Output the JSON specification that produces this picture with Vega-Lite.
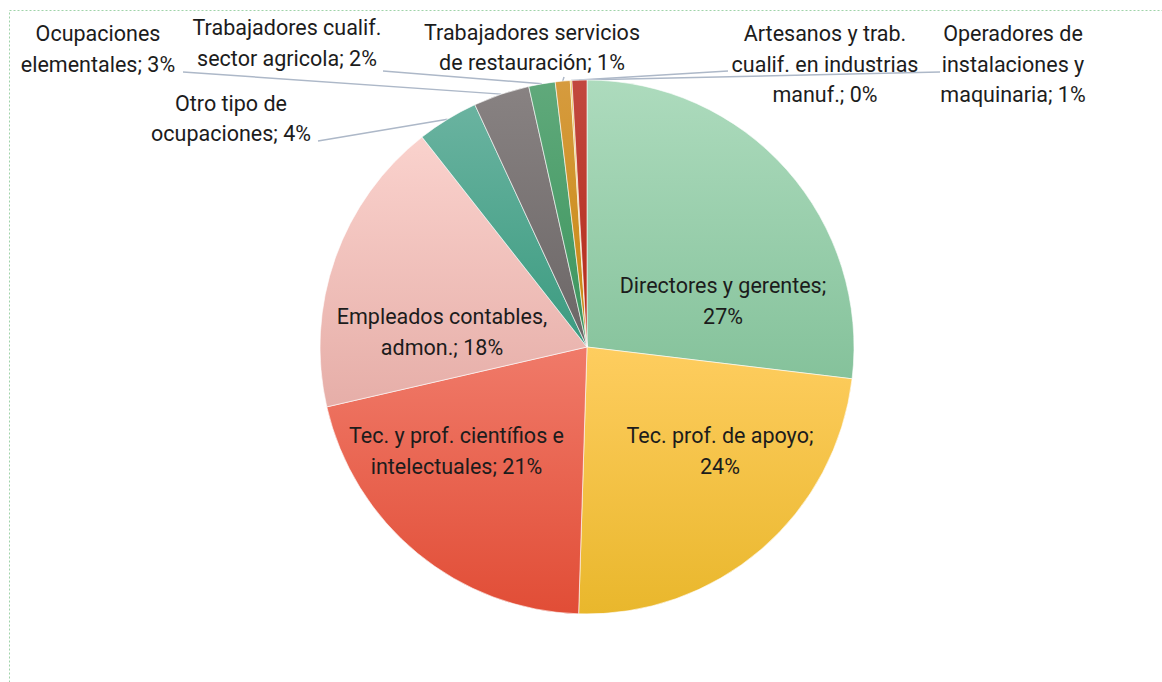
{
  "$schema": "https://vega.github.io/schema/vega-lite/v6.json",
  "width": 1156,
  "height": 674,
  "autosize": {"type": "none"},
  "padding": {"left": 9, "top": 10, "right": -3, "bottom": -2},
  "background": "white",
  "config": {
    "view": {"stroke": "#9fd3a9", "strokeDash": [2, 2], "strokeWidth": 1},
    "text": {"font": "Roboto"}
  },
  "datasets": {
    "jobs": [
      {"idx": 1, "cat": "Directores y gerentes", "value": 26.9},
      {"idx": 2, "cat": "Tec. prof. de apoyo", "value": 23.6},
      {"idx": 3, "cat": "Tec. y prof. científios e intelectuales", "value": 20.9},
      {"idx": 4, "cat": "Empleados contables, admon.", "value": 18.0},
      {"idx": 5, "cat": "Otro tipo de ocupaciones", "value": 3.7},
      {"idx": 6, "cat": "Ocupaciones elementales", "value": 3.4},
      {"idx": 7, "cat": "Trabajadores cualif. sector agricola", "value": 1.6},
      {"idx": 8, "cat": "Trabajadores servicios de restauración", "value": 0.9},
      {"idx": 9, "cat": "Artesanos y trab. cualif. en industrias manuf.", "value": 0.1},
      {"idx": 10, "cat": "Operadores de instalaciones y maquinaria", "value": 0.9}
    ],
    "labels": [
      {"cat": "Directores y gerentes", "wrap": "Directores y gerentes;|", "lx": 0.5094, "ly": 0.2247},
      {"cat": "Tec. prof. de apoyo", "wrap": "Tec. prof. de apoyo;|", "lx": 0.4981, "ly": -0.3371},
      {"cat": "Tec. y prof. científios e intelectuales", "wrap": "Tec. y prof. científios e|intelectuales; ", "lx": -0.4888, "ly": -0.3371},
      {"cat": "Empleados contables, admon.", "wrap": "Empleados contables,|admon.; ", "lx": -0.5431, "ly": 0.1086},
      {"cat": "Otro tipo de ocupaciones", "wrap": "Otro tipo de|ocupaciones; ", "lx": -1.3333, "ly": 0.9064, "ax": -1.0075, "ay": 0.7715},
      {"cat": "Ocupaciones elementales", "wrap": "Ocupaciones|elementales; ", "lx": -1.8315, "ly": 1.1685, "ax": -1.5131, "ay": 1.03},
      {"cat": "Trabajadores cualif. sector agricola", "wrap": "Trabajadores cualif.|sector agricola; ", "lx": -1.1236, "ly": 1.191, "ax": -0.764, "ay": 1.0337},
      {"cat": "Trabajadores servicios de restauración", "wrap": "Trabajadores servicios|de restauración; ", "lx": -0.206, "ly": 1.1723, "ax": -0.0861, "ay": 1.0112},
      {"cat": "Artesanos y trab. cualif. en industrias manuf.", "wrap": "Artesanos y trab.|cualif. en industrias|manuf.; ", "lx": 0.8914, "ly": 1.1685, "ax": 0.5281, "ay": 1.0337},
      {"cat": "Operadores de instalaciones y maquinaria", "wrap": "Operadores de|instalaciones y|maquinaria; ", "lx": 1.5955, "ly": 1.1685, "ax": 1.3221, "ay": 1.03}
    ]
  },
  "data": {"name": "jobs"},
  "transform": [
    {"joinaggregate": [{"op": "sum", "field": "value", "as": "total"}]},
    {"calculate": "datum.value / datum.total", "as": "share"}
  ],
  "layer": [
    {
      "transform": [
        {"stack": "value", "groupby": [], "sort": [{"field": "idx", "order": "ascending"}], "as": ["s0", "s1"]},
        {"calculate": "PI * (datum.s0 + datum.s1) / datum.total", "as": "ang"},
        {"calculate": "sin(datum.ang)", "as": "ex"},
        {"calculate": "cos(datum.ang)", "as": "ey"},
        {"lookup": "cat", "from": {"data": {"name": "labels"}, "key": "cat", "fields": ["ax", "ay"]}},
        {"filter": "isValid(datum.ax)"}
      ],
      "mark": {"type": "rule", "stroke": "#adb8c8", "strokeWidth": 1.5},
      "encoding": {
        "x": {"field": "ex", "type": "quantitative", "scale": {"domain": [-2.16479, 2.16479], "nice": false, "zero": false}, "axis": null},
        "y": {"field": "ey", "type": "quantitative", "scale": {"domain": [-1.26217, 1.26217], "nice": false, "zero": false}, "axis": null},
        "x2": {"field": "ax"},
        "y2": {"field": "ay"}
      }
    },
    {
      "mark": {"type": "arc", "outerRadius": 267, "stroke": "white", "strokeWidth": 0.6},
      "encoding": {
        "theta": {"field": "value", "type": "quantitative", "stack": true},
        "order": {"field": "idx", "type": "quantitative", "sort": "ascending"},
        "fill": {
          "condition": [
            {"test": "datum.idx === 1", "value": {"gradient": "linear", "x1": 0, "y1": 0, "x2": 0, "y2": 1, "stops": [{"offset": 0, "color": "#addbbd"}, {"offset": 1, "color": "#85c29b"}]}},
            {"test": "datum.idx === 2", "value": {"gradient": "linear", "x1": 0, "y1": 0, "x2": 0, "y2": 1, "stops": [{"offset": 0, "color": "#fecd5f"}, {"offset": 1, "color": "#e9b72c"}]}},
            {"test": "datum.idx === 3", "value": {"gradient": "linear", "x1": 0, "y1": 0, "x2": 0, "y2": 1, "stops": [{"offset": 0, "color": "#f07a69"}, {"offset": 1, "color": "#e14d36"}]}},
            {"test": "datum.idx === 4", "value": {"gradient": "linear", "x1": 0, "y1": 0, "x2": 0, "y2": 1, "stops": [{"offset": 0, "color": "#fad2cd"}, {"offset": 1, "color": "#e6aea8"}]}},
            {"test": "datum.idx === 5", "value": {"gradient": "linear", "x1": 0, "y1": 0, "x2": 0, "y2": 1, "stops": [{"offset": 0, "color": "#6ab3a0"}, {"offset": 1, "color": "#3b9b80"}]}},
            {"test": "datum.idx === 6", "value": {"gradient": "linear", "x1": 0, "y1": 0, "x2": 0, "y2": 1, "stops": [{"offset": 0, "color": "#888282"}, {"offset": 1, "color": "#6b6666"}]}},
            {"test": "datum.idx === 7", "value": {"gradient": "linear", "x1": 0, "y1": 0, "x2": 0, "y2": 1, "stops": [{"offset": 0, "color": "#60a97b"}, {"offset": 1, "color": "#3b955d"}]}},
            {"test": "datum.idx === 8", "value": {"gradient": "linear", "x1": 0, "y1": 0, "x2": 0, "y2": 1, "stops": [{"offset": 0, "color": "#d69b3e"}, {"offset": 1, "color": "#c88810"}]}},
            {"test": "datum.idx === 9", "value": {"gradient": "linear", "x1": 0, "y1": 0, "x2": 0, "y2": 1, "stops": [{"offset": 0, "color": "#e8c040"}, {"offset": 1, "color": "#d8a800"}]}},
            {"test": "datum.idx === 10", "value": {"gradient": "linear", "x1": 0, "y1": 0, "x2": 0, "y2": 1, "stops": [{"offset": 0, "color": "#c2483f"}, {"offset": 1, "color": "#b42a18"}]}}
          ],
          "value": "#999999"
        }
      }
    },
    {
      "transform": [
        {"lookup": "cat", "from": {"data": {"name": "labels"}, "key": "cat", "fields": ["wrap", "lx", "ly"]}},
        {"calculate": "split(datum.wrap + format(datum.share, '.0%'), '|')", "as": "txt"}
      ],
      "mark": {"type": "text", "fontSize": 21.5, "lineHeight": 30.5, "align": "center", "baseline": "middle", "color": "#1c1c1c"},
      "encoding": {
        "x": {"field": "lx", "type": "quantitative"},
        "y": {"field": "ly", "type": "quantitative"},
        "text": {"field": "txt"}
      }
    }
  ]
}
